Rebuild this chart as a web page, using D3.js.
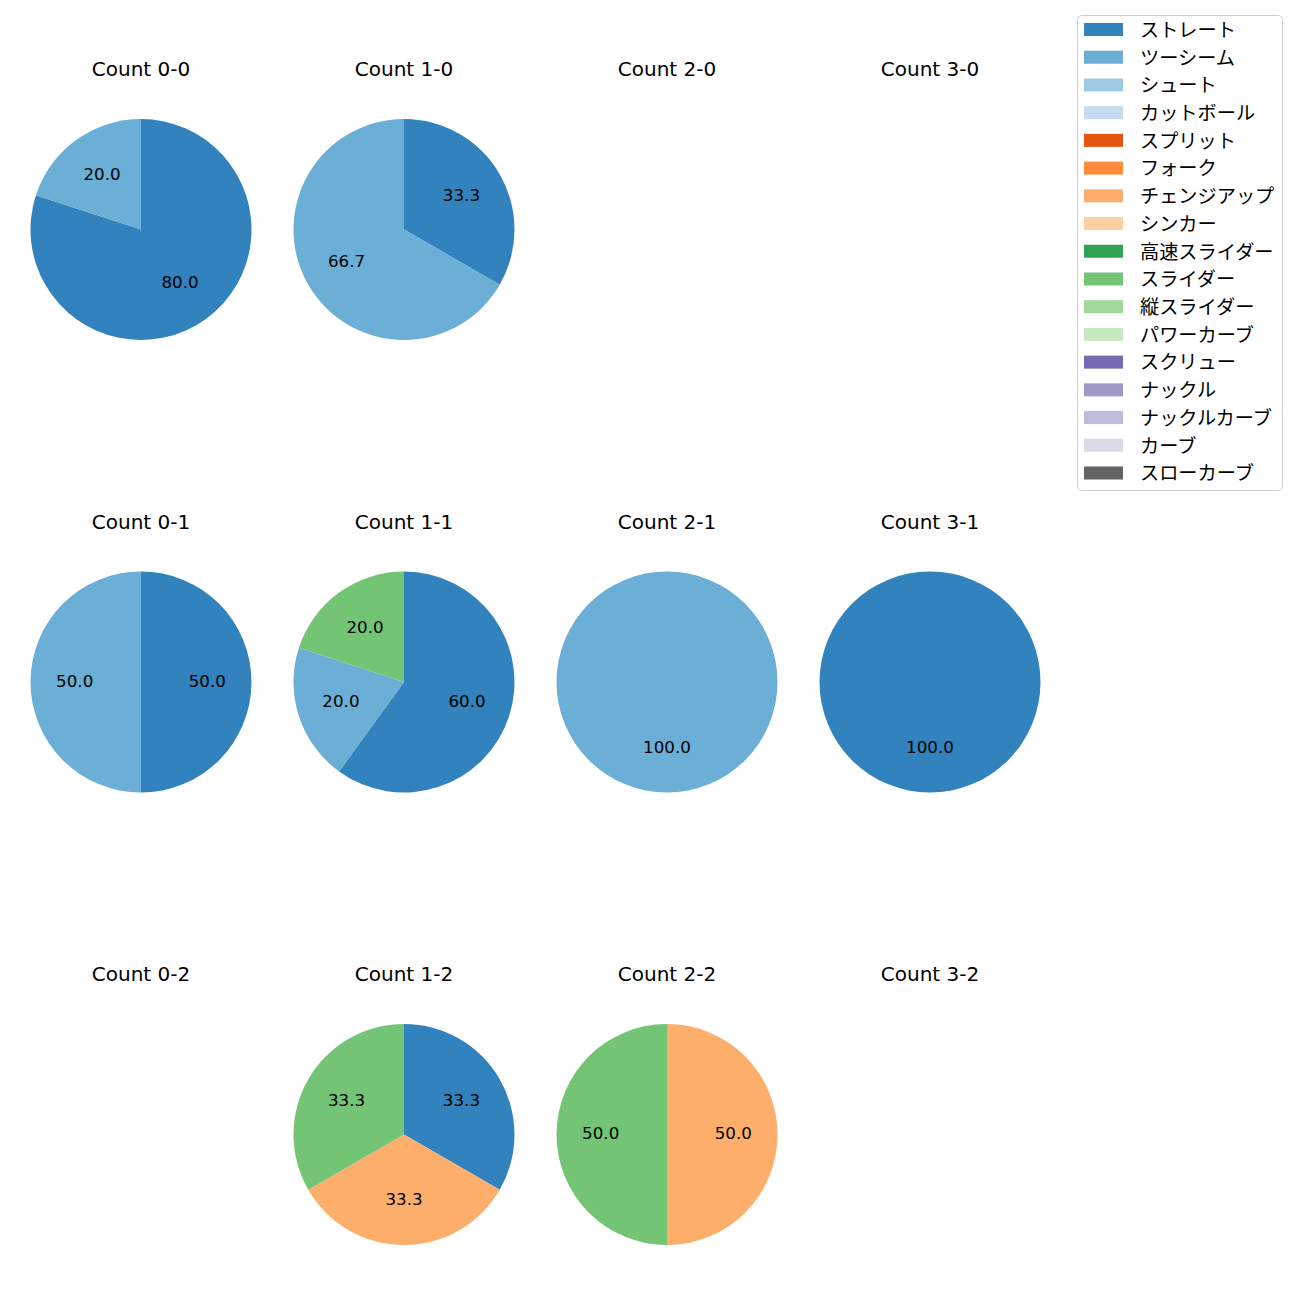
<!DOCTYPE html>
<html><head><meta charset="utf-8">
<script src="https://cdn.jsdelivr.net/npm/d3@7"></script>
<style>body{margin:0;background:#fff;} text{font-family:"DejaVu Sans","Noto Sans CJK JP",sans-serif;} .jp{font-family:"Noto Sans CJK JP","DejaVu Sans",sans-serif;}</style>
</head><body>
<svg id="chart" width="1300" height="1300"></svg>
<script>
const pitchTypes = ["ストレート","ツーシーム","シュート","カットボール","スプリット","フォーク","チェンジアップ","シンカー","高速スライダー","スライダー","縦スライダー","パワーカーブ","スクリュー","ナックル","ナックルカーブ","カーブ","スローカーブ"];
const pitchColors = ["#3182bd","#6baed6","#9ecae1","#c6dbef","#e6550d","#fd8d3c","#fdae6b","#fdd0a2","#31a354","#74c476","#a1d99b","#c7e9c0","#756bb1","#9e9ac8","#bcbddc","#dadaeb","#636363"];
const balls = [0,1,2,3];
const strikes = [0,1,2];
// panel order: 0-0,1-0,2-0,3-0, 0-1,1-1,2-1,3-1, 0-2,1-2,2-2,3-2
const straight   = [4,1,0,0, 1,3,0,1, 0,1,0,0];
const twoSeam    = [1,2,0,0, 1,1,1,0, 0,0,0,0];
const changeup   = [0,0,0,0, 0,0,0,0, 0,1,1,0];
const slider     = [0,0,0,0, 0,1,0,0, 0,1,1,0];
const seriesByType = {"ストレート":straight,"ツーシーム":twoSeam,"チェンジアップ":changeup,"スライダー":slider};

const svg = d3.select("#chart");
const colorScale = d3.scaleOrdinal().domain(pitchTypes).range(pitchColors);
const xScale = d3.scalePoint().domain(balls).range([141,930]);
const yScale = d3.scalePoint().domain(strikes).range([229.5,1134.5]);
const R = 110.5;
const arc = d3.arc().innerRadius(0).outerRadius(R);
const labelArc = d3.arc().innerRadius(R*0.6).outerRadius(R*0.6);
const pie = d3.pie().sort(null).value(d=>d.v);

strikes.forEach((s,si)=>{
  balls.forEach((b,bi)=>{
    const idx = si*balls.length+bi;
    const cx = xScale(b), cy = yScale(s);
    const g = svg.append("g").attr("transform",`translate(${cx},${cy})`);
    g.append("text").attr("x",0).attr("y",-160.5).attr("text-anchor","middle")
      .attr("dominant-baseline","central").attr("font-size",20).attr("fill","#000")
      .text(`Count ${b}-${s}`);
    const data = pitchTypes.map(t=>({t, v: seriesByType[t] ? seriesByType[t][idx] : 0})).filter(d=>d.v>0);
    if(!data.length) return;
    const total = d3.sum(data,d=>d.v);
    const arcs = pie(data);
    g.selectAll("path").data(arcs).join("path").attr("d",arc).attr("fill",d=>colorScale(d.data.t));
    g.selectAll("text.lbl").data(arcs).join("text").attr("class","lbl")
      .attr("transform",d=>`translate(${labelArc.centroid(d)})`)
      .attr("y",-1.5)
      .attr("text-anchor","middle").attr("dominant-baseline","central")
      .attr("font-size",16.7).attr("fill","#000")
      .text(d=>(d.data.v/total*100).toFixed(1));
  });
});

// legend
const lg = svg.append("g");
lg.append("rect").attr("x",1077.5).attr("y",15.5).attr("width",205).attr("height",475).attr("rx",4)
  .attr("fill","#fff").attr("stroke","#d0d0d0").attr("stroke-width",1);
const ly = d3.scalePoint().domain(pitchTypes).range([29.5,473]);
pitchTypes.forEach(t=>{
  lg.append("rect").attr("x",1084).attr("y",ly(t)-6.5).attr("width",39).attr("height",13).attr("fill",colorScale(t));
  lg.append("text").attr("class","jp").attr("x",1140).attr("y",ly(t)-0.7).attr("dominant-baseline","central")
    .attr("font-size",19.2).attr("fill","#000").text(t);
});
</script>
</body></html>
